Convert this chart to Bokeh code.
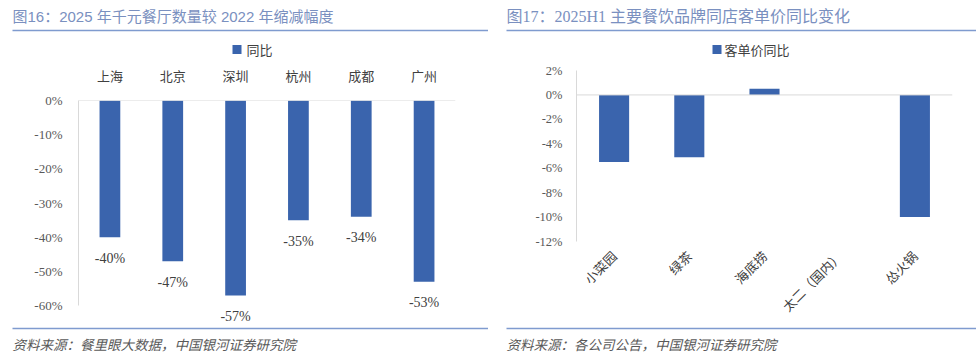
import math
from bokeh.plotting import figure
from bokeh.layouts import row, column
from bokeh.models import (Range1d, Label, BoxAnnotation, Span,
                          ColumnDataSource, FixedTicker, PrintfTickFormatter)
from bokeh.core.properties import value
from bokeh.embed import file_html
from bokeh.resources import INLINE

# ---- data ----
cities = ["上海", "北京", "深圳", "杭州", "成都", "广州"]
city_change = [-40, -47, -57, -35, -34, -53]
left_ticks = [0, -10, -20, -30, -40, -50, -60]

brands = ["小菜园", "绿茶", "海底捞", "太二（国内）", "怂火锅"]
brand_change = [-5.5, -5.1, 0.5, 0.0, -10.0]
right_ticks = [2, 0, -2, -4, -6, -8, -10, -12]

left_title = "图16：2025 年千元餐厅数量较 2022 年缩减幅度"
right_title = "图17：2025H1 主要餐饮品牌同店客单价同比变化"
left_source = "资料来源：餐里眼大数据，中国银河证券研究院"
right_source = "资料来源：各公司公告，中国银河证券研究院"
left_legend = "同比"
right_legend = "客单价同比"

BAR = "#3a64ad"
TITLE_C = "#7a90c0"
RULE_C = "#7f9bcf"
AXIS_C = "#d9d9d9"
CJK = "Noto Sans CJK SC"
SERIF = "Liberation Serif"
W = 488
HEAD_H = 62
FOOT_H = 32
CHART_H = 357 - HEAD_H - FOOT_H


def blank_fig(h):
    # a decoration strip: frame == canvas, y measured in pixels from the top
    p = figure(width=W, height=h, x_range=Range1d(0, W), y_range=Range1d(h, 0),
               output_backend="svg", toolbar_location=None, tools="", title=None,
               x_axis_location=None, y_axis_location=None, min_border=0)
    p.outline_line_color = None
    p.grid.visible = False
    p.background_fill_color = "white"
    p.border_fill_color = "white"
    p.frame_align = False
    return p


def rule(p, x0, x1, y):
    p.add_layout(BoxAnnotation(left=x0, right=x1, top=y - 0.75, bottom=y + 0.75,
                               fill_color=RULE_C, fill_alpha=1, line_color=None))


def header(title, title_font, title_size, legend_label, x0, legend_x, gap):
    h = blank_fig(HEAD_H)
    h.add_layout(Label(x=x0, y=16, text=title, text_font=title_font,
                       text_font_size=title_size, text_color=TITLE_C,
                       text_baseline="middle", text_align="left"))
    rule(h, x0, W, 30)
    # legend: swatch + label
    h.add_layout(BoxAnnotation(left=legend_x, right=legend_x + 9, top=44.5, bottom=53.5,
                               fill_color=BAR, fill_alpha=1, line_color=None))
    h.add_layout(Label(x=legend_x + 9 + gap, y=49, text=legend_label, text_font=CJK,
                       text_font_size="13px", text_color="#404040",
                       text_baseline="middle", text_align="left"))
    return h


def footer(source, x0):
    f = blank_fig(FOOT_H)
    rule(f, x0, W, 3)
    f.add_layout(Label(x=x0, y=18, text=source, text_font=CJK, text_font_size="13.5px",
                       text_font_style="italic", text_color="#595959",
                       text_baseline="middle", text_align="left"))
    return f


def chart_fig(x_range, y_range, left, right, top, bottom, x_loc):
    p = figure(width=W, height=CHART_H, x_range=x_range, y_range=y_range,
               output_backend="svg", toolbar_location=None, tools="", title=None,
               x_axis_location=x_loc, min_border_left=left, min_border_right=right,
               min_border_top=top, min_border_bottom=bottom)
    p.outline_line_color = None
    p.grid.visible = False
    p.background_fill_color = "white"
    p.border_fill_color = "white"
    p.frame_align = False
    return p


def style_cat_axis(ax, size, standoff):
    ax.axis_line_color = None
    ax.major_tick_line_color = None
    ax.minor_tick_line_color = None
    ax.major_tick_out = 0
    ax.major_label_standoff = standoff
    ax.major_label_text_font = CJK
    ax.major_label_text_font_size = size
    ax.major_label_text_color = "#404040"


def style_val_axis(ax, ticks, size, standoff):
    ax.ticker = FixedTicker(ticks=ticks)
    ax.formatter = PrintfTickFormatter(format="%d%%")
    ax.bounds = (min(ticks), max(ticks))
    ax.axis_line_color = AXIS_C
    ax.major_tick_line_color = None
    ax.minor_tick_line_color = None
    ax.major_tick_out = 0
    ax.major_label_standoff = standoff
    ax.major_label_text_font = SERIF
    ax.major_label_text_font_size = size
    ax.major_label_text_color = "#595959"


# ---- left panel ----
src1 = ColumnDataSource(dict(cat=cities, val=city_change,
                             lbl=[f"{v}%" for v in city_change]))
c1 = chart_fig(cities, Range1d(-65.8, 0), 78, 33, 98 - HEAD_H, 0, "above")
c1.vbar(x="cat", top="val", bottom=0, width=0.33, source=src1,
        fill_color=BAR, line_color=None)
c1.text(x="cat", y="val", text="lbl", source=src1, y_offset=21,
        text_align="center", text_baseline="middle", text_font=value(SERIF),
        text_font_size="14px", text_color="#404040")
c1.add_layout(Span(location=0, dimension="width", line_color=AXIS_C, line_width=1))
style_cat_axis(c1.xaxis[0], "13px", 16)
style_val_axis(c1.yaxis[0], left_ticks, "13px", 16)
h1 = header(left_title, "'Liberation Sans', 'Noto Sans CJK SC'", "15px",
            left_legend, 12, 232, 5)
f1 = footer(left_source, 12)

# ---- right panel ----
src2 = ColumnDataSource(dict(cat=brands, val=brand_change))
c2 = chart_fig(brands, Range1d(-12, 2), 88, 24, 70 - HEAD_H, 325 - 242, "below")
c2.vbar(x="cat", top="val", bottom=0, width=0.4, source=src2,
        fill_color=BAR, line_color=None)
c2.add_layout(Span(location=0, dimension="width", line_color=AXIS_C, line_width=1))
style_cat_axis(c2.xaxis[0], "13px", 12)
c2.xaxis[0].major_label_orientation = math.pi / 4
style_val_axis(c2.yaxis[0], right_ticks, "12.5px", 14)
h2 = header(right_title, "'Liberation Serif', 'Noto Sans CJK SC'", "16px",
            right_legend, 18, 712 - 488, 3)
f2 = footer(right_source, 18)

layout = row(column(h1, c1, f1), column(h2, c2, f2))
open("out.html", "w").write(file_html(layout, INLINE))
